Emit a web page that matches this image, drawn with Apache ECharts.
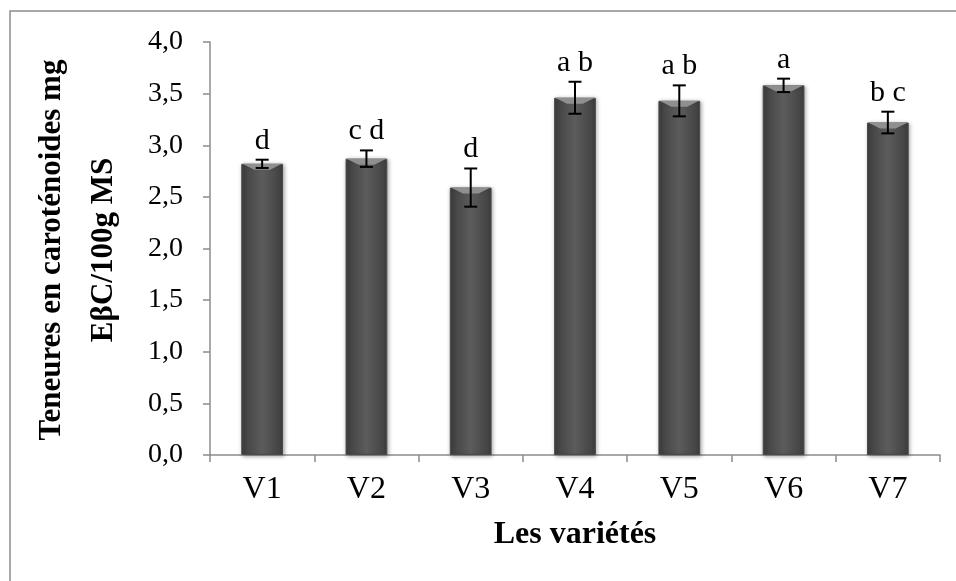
<!DOCTYPE html>
<html>
<head>
<meta charset="utf-8">
<script src="https://cdn.jsdelivr.net/npm/echarts@6/dist/echarts.min.js"></script>
<style>html,body{margin:0;padding:0;background:#fff;}#c{width:956px;height:581px;}</style>
</head>
<body>
<div id="c"></div>
<script>
const categories = ['V1', 'V2', 'V3', 'V4', 'V5', 'V6', 'V7'];
const means = [2.82, 2.87, 2.59, 3.46, 3.43, 3.58, 3.22];
const errors = [0.04, 0.08, 0.185, 0.155, 0.15, 0.065, 0.105];
const letters = ['d', 'c d', 'd', 'a b', 'a b', 'a', 'b c'];
const yTicks = { min: 0, max: 4, interval: 0.5 };

const serif = "'Liberation Serif', 'Times New Roman', serif";
const chart = echarts.init(document.getElementById('c'));

const errData = categories.map((c, i) => [i, means[i], errors[i], letters[i]]);

chart.setOption({
  animation: false,
  backgroundColor: '#fff',
  grid: { left: 210, right: 16, top: 42, bottom: 126 },
  xAxis: {
    type: 'category',
    data: categories,
    boundaryGap: true,
    axisLine: { lineStyle: { color: '#8c8c8c', width: 1.5 } },
    axisTick: { show: true, length: 7, alignWithLabel: false, lineStyle: { color: '#8c8c8c', width: 1.5 } },
    axisLabel: { color: '#000', fontFamily: serif, fontSize: 32, margin: 19 },
    name: 'Les variétés',
    nameLocation: 'middle',
    nameGap: 64,
    nameTextStyle: { color: '#000', fontFamily: serif, fontSize: 32, fontWeight: 'bold' }
  },
  yAxis: {
    type: 'value',
    min: yTicks.min, max: yTicks.max, interval: yTicks.interval,
    axisLine: { show: true, lineStyle: { color: '#8c8c8c', width: 1.5 } },
    axisTick: { show: true, length: 7, inside: false, lineStyle: { color: '#8c8c8c', width: 1.5 } },
    splitLine: { show: false },
    axisLabel: {
      color: '#000', fontFamily: serif, fontSize: 28, margin: 27,
      formatter: v => v.toFixed(1).replace('.', ',')
    }
  },
  graphic: [
    { type: 'rect', shape: { x: 10, y: 11, width: 1200, height: 1200 }, style: { fill: 'none', stroke: '#8c8c8c', lineWidth: 1.5 }, z: -10 },
    { type: 'text', x: 52, y: 250, rotation: Math.PI / 2,
      style: { text: 'Teneures en caroténoides mg', font: "bold 31px 'Liberation Serif', serif", fill: '#000', align: 'center', verticalAlign: 'middle' } },
    { type: 'text', x: 104, y: 250, rotation: Math.PI / 2,
      style: { text: 'EβC/100g MS', font: "bold 31px 'Liberation Serif', serif", fill: '#000', align: 'center', verticalAlign: 'middle' } }
  ],
  series: [
    {
      type: 'bar',
      data: means,
      barWidth: '40%',
      itemStyle: {
        color: new echarts.graphic.LinearGradient(0, 0, 1, 0, [
          { offset: 0, color: '#3f3f3f' },
          { offset: 0.5, color: '#5c5c5c' },
          { offset: 1, color: '#3f3f3f' }
        ]),
        borderColor: '#4a4a4a',
        borderWidth: 1,
        shadowBlur: 4,
        shadowColor: 'rgba(0,0,0,0.35)',
        shadowOffsetX: 1,
        shadowOffsetY: 1
      },
      z: 2
    },
    {
      type: 'custom',
      data: errData,
      z: 5,
      renderItem: function (params, api) {
        const i = api.value(0);
        const m = api.value(1);
        const e = api.value(2);
        const band = api.size([1, 0])[0];
        const bw = band * 0.4;
        const top = api.coord([i, m]);
        const hi = api.coord([i, m + e]);
        const lo = api.coord([i, m - e]);
        const x = top[0];
        const cap = 6.5;
        const bev = 6;
        return {
          type: 'group',
          children: [
            { type: 'polygon',
              shape: { points: [[x - bw / 2 + 1, top[1]], [x + bw / 2 - 1, top[1]], [x + bw / 2 - 1 - bev * 2, top[1] + bev], [x - bw / 2 + 1 + bev * 2, top[1] + bev]] },
              style: { fill: '#8f8f8f' } },
            { type: 'line', shape: { x1: x, y1: hi[1], x2: x, y2: lo[1] }, style: { stroke: '#000', lineWidth: 2 } },
            { type: 'line', shape: { x1: x - cap, y1: hi[1], x2: x + cap, y2: hi[1] }, style: { stroke: '#000', lineWidth: 2 } },
            { type: 'line', shape: { x1: x - cap, y1: lo[1], x2: x + cap, y2: lo[1] }, style: { stroke: '#000', lineWidth: 2 } },
            { type: 'text', x: x, y: hi[1] - 4,
              style: { text: api.value(3), font: "30px 'Liberation Serif', serif", fill: '#000', align: 'center', verticalAlign: 'bottom' } }
          ]
        };
      }
    }
  ]
});
</script>
</body>
</html>
